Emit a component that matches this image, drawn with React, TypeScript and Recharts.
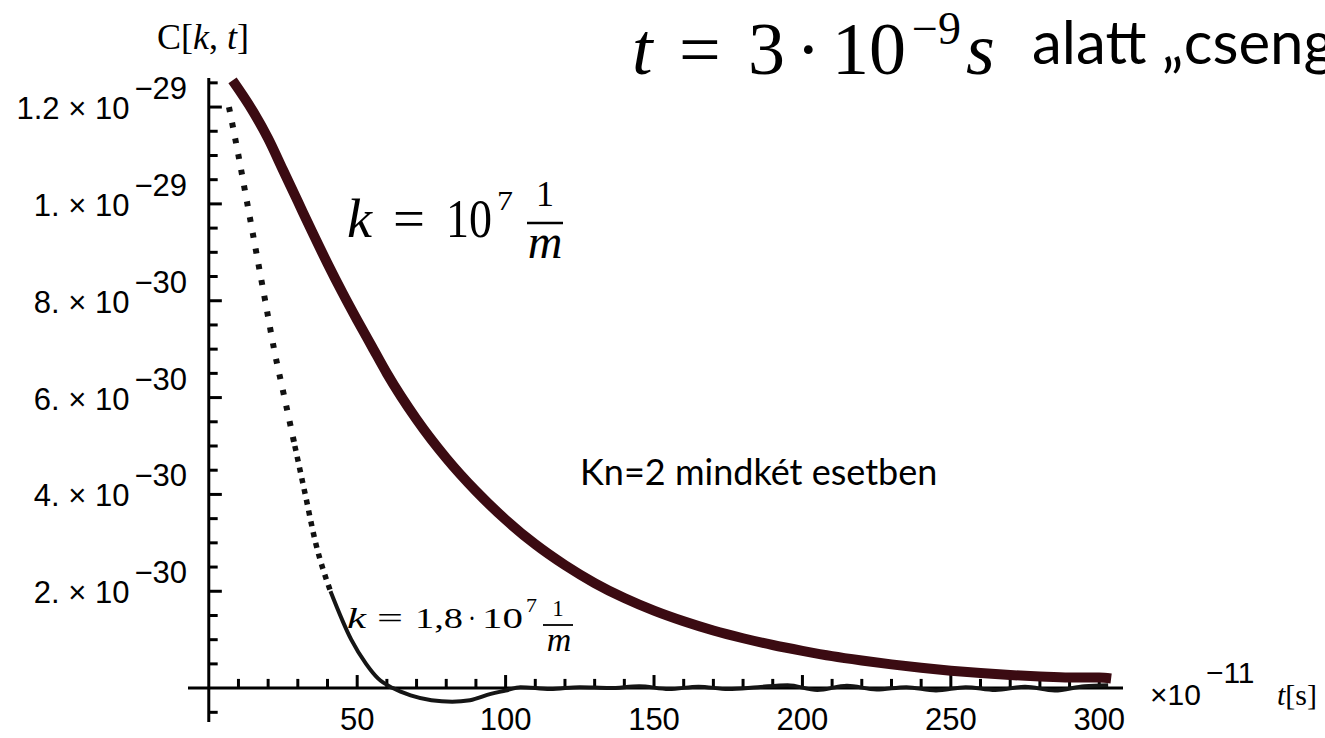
import React from 'react';
import { LineChart, Line, XAxis, YAxis, ReferenceLine } from 'recharts';

// t in units of 1e-11 s, C[k,t] in units of 1e-30
// k = 1e7 1/m (thick curve)
const slowT = [8, 15, 20, 25, 30, 35, 40, 45, 50, 55, 60, 70, 80, 90, 100, 110, 120, 130, 140, 150, 160, 170, 180, 190, 200, 210, 220, 230, 240, 250, 260, 270, 280, 290, 300, 304];
const slowC = [12.55, 11.9, 11.35, 10.7, 10.05, 9.4, 8.77, 8.17, 7.6, 7.05, 6.5, 5.55, 4.75, 4.07, 3.48, 2.97, 2.54, 2.17, 1.86, 1.6, 1.38, 1.19, 1.03, 0.89, 0.77, 0.66, 0.57, 0.49, 0.42, 0.36, 0.31, 0.27, 0.24, 0.22, 0.22, 0.2];

// k = 1.8e7 1/m (thin curve, dotted where it falls fast)
const fastT = [6.8, 10, 13, 16, 19, 22, 25.5, 29, 32.5, 36, 41, 48, 53, 57, 62, 68, 75, 82, 88, 95, 100, 105, 115, 125, 135, 145, 155, 165, 175, 185, 195, 205, 215, 225, 235, 245, 255, 265, 275, 285, 295, 303];
const fastC = [12.0, 11.0, 10.0, 9.0, 8.0, 7.0, 6.0, 5.0, 4.0, 3.0, 2.0, 1.0, 0.5, 0.2, 0.0, -0.15, -0.25, -0.28, -0.25, -0.12, -0.05, 0.02, -0.02, 0.02, 0.0, 0.04, -0.02, 0.03, -0.02, 0.02, 0.06, -0.04, 0.05, -0.03, 0.02, -0.05, 0.02, -0.04, 0.03, -0.05, 0.04, 0.06];

const xTicks = [50, 100, 150, 200, 250, 300];
const yTicks = [2, 4, 6, 8, 10, 12];
const yTickMantissa = ['2.', '4.', '6.', '8.', '1.', '1.2'];
const yTickExponent = ['−30', '−30', '−30', '−30', '−29', '−29'];

const slowData = slowT.map((t, i) => ({ t, c: slowC[i] }));
const fastData = fastT.map((t, i) => ({ t, c: fastC[i] }));
const fastSparse = fastData.filter((d) => d.t <= 29);
const fastMid = fastData.filter((d) => d.t >= 29 && d.t <= 41);
const fastDense = fastData.filter((d) => d.t >= 41);

// small tick marks drawn on the axes that cross at the origin
const xMarks = Array.from({ length: 30 }, (_, i) => (i + 1) * 10);
const yMarks = Array.from({ length: 27 }, (_, i) => -0.5 + i * 0.5).filter((v) => v !== 0);

const tickFont = '"Liberation Sans", Arial, sans-serif';
const mathFont = '"Liberation Serif", "DejaVu Serif", serif';
const textFont = 'Lato, "Open Sans", sans-serif';

const XTick = (props: any) => {
  const { x, y, payload } = props;
  return (
    <text x={x} y={y + 8} textAnchor="middle" fontFamily={tickFont} fontSize={31} fill="#000">
      {payload.value}
    </text>
  );
};

const YTick = (props: any) => {
  const { x, y, payload } = props;
  const i = yTicks.indexOf(payload.value);
  if (i < 0) return null;
  return (
    <text x={x - 1} y={y + 12} textAnchor="end" fontFamily={tickFont} fontSize={31} fill="#000">
      <tspan>{yTickMantissa[i]} × 10</tspan>
      <tspan dx={5} dy={-20}>{yTickExponent[i]}</tspan>
    </text>
  );
};

// a piece of an equation stretched to the width it has in the slide
const Piece = ({ x, y, w, size, italic, children, anchor }: any) => (
  <text
    x={x}
    y={y}
    fontFamily={mathFont}
    fontSize={size}
    fontStyle={italic ? 'italic' : 'normal'}
    textAnchor={anchor || 'start'}
    textLength={w}
    lengthAdjust="spacingAndGlyphs"
    fill="#000"
  >
    {children}
  </text>
);

export default function App() {
  return (
    <div style={{ position: 'absolute', left: 0, top: 0, width: 1325, height: 738, background: '#fff' }}>
      <LineChart width={1325} height={738} margin={{ top: 78, right: 202, bottom: 0, left: 0 }}>
        <XAxis
          type="number"
          dataKey="t"
          domain={[-7, 308]}
          ticks={xTicks}
          interval={0}
          axisLine={false}
          tickLine={false}
          tickSize={0}
          tickMargin={0}
          height={16}
          tick={<XTick />}
        />
        <YAxis
          type="number"
          domain={[-0.7, 12.6]}
          ticks={yTicks}
          interval={0}
          axisLine={false}
          tickLine={false}
          tickSize={0}
          tickMargin={0}
          width={188}
          tick={<YTick />}
        />
        <ReferenceLine y={0} stroke="#000" strokeWidth={3} />
        <ReferenceLine x={0} stroke="#000" strokeWidth={3} />
        {xMarks.map((t) => (
          <ReferenceLine
            key={`xm-${t}`}
            segment={[{ x: t, y: 0 }, { x: t, y: t % 50 === 0 ? 0.27 : 0.19 }]}
            stroke="#000"
            strokeWidth={3}
          />
        ))}
        {yMarks.map((v) => (
          <ReferenceLine
            key={`ym-${v}`}
            segment={[{ x: 0, y: v }, { x: v % 2 === 0 ? 4.4 : 3, y: v }]}
            stroke="#000"
            strokeWidth={3}
          />
        ))}
        <Line data={fastSparse} dataKey="c" type="monotone" stroke="#111" strokeWidth={6} strokeDasharray="5 11" dot={false} activeDot={false} isAnimationActive={false} />
        <Line data={fastMid} dataKey="c" type="monotone" stroke="#111" strokeWidth={5.5} strokeDasharray="5 6" dot={false} activeDot={false} isAnimationActive={false} />
        <Line data={fastDense} dataKey="c" type="monotone" stroke="#151515" strokeWidth={4} dot={false} activeDot={false} isAnimationActive={false} />
        <Line data={slowData} dataKey="c" type="monotone" stroke="#3b0b12" strokeWidth={10} dot={false} activeDot={false} isAnimationActive={false} />
      </LineChart>

      <svg width={1325} height={738} style={{ position: 'absolute', left: 0, top: 0, pointerEvents: 'none' }}>
        {/* axis titles */}
        <text x={157} y={49} fontFamily={mathFont} fontSize={36} fill="#000">
          C[<tspan fontStyle="italic">k</tspan>, <tspan fontStyle="italic">t</tspan>]
        </text>
        <text x={1150} y={705} fontFamily={tickFont} fontSize={30} fill="#000">
          ×10<tspan dx={5} dy={-22}>−11</tspan>
        </text>
        <text x={1277} y={705} fontFamily={mathFont} fontSize={30} fill="#000">
          <tspan fontStyle="italic">t</tspan>[s]
        </text>

        {/* title */}
        <text y={74} fontFamily={mathFont} fontSize={74} fill="#000">
          <tspan x={632} fontStyle="italic">t</tspan>
          <tspan x={679}>=</tspan>
          <tspan x={748}>3</tspan>
          <tspan x={796}>·</tspan>
          <tspan x={832}>10</tspan>
          <tspan x={912} dy={-30} fontSize={46}>−9</tspan>
          <tspan x={966} dy={30} fontStyle="italic">s</tspan>
        </text>
        <text x={1032} y={64} fontFamily={textFont} fontSize={60} fill="#000">
          alatt „cseng
        </text>

        {/* k = 10^7 1/m */}
        <Piece x={347} y={237} w={25} size={54} italic>k</Piece>
        <Piece x={393} y={237} w={32} size={54}>=</Piece>
        <Piece x={446} y={237} w={46} size={54}>10</Piece>
        <Piece x={497} y={210} w={16} size={28}>7</Piece>
        <Piece x={545} y={206} size={36} anchor="middle">1</Piece>
        <line x1={527} x2={563} y1={223} y2={223} stroke="#000" strokeWidth={2.5} />
        <Piece x={545} y={258} size={48} italic anchor="middle">m</Piece>

        {/* k = 1,8 · 10^7 1/m */}
        <Piece x={347} y={628} w={19} size={29} italic>k</Piece>
        <Piece x={377} y={628} w={26} size={29}>=</Piece>
        <Piece x={415} y={628} w={48} size={29}>1,8</Piece>
        <Piece x={468} y={628} w={8} size={29}>·</Piece>
        <Piece x={482} y={628} w={41} size={29}>10</Piece>
        <Piece x={526} y={612} w={11} size={18}>7</Piece>
        <Piece x={558} y={616} size={23} anchor="middle">1</Piece>
        <line x1={543} x2={573} y1={625} y2={625} stroke="#000" strokeWidth={1.8} />
        <Piece x={559} y={651} size={34} italic anchor="middle">m</Piece>

        <text x={580} y={485} fontFamily={textFont} fontSize={36} fill="#000">
          Kn=2 mindkét esetben
        </text>
      </svg>
    </div>
  );
}
